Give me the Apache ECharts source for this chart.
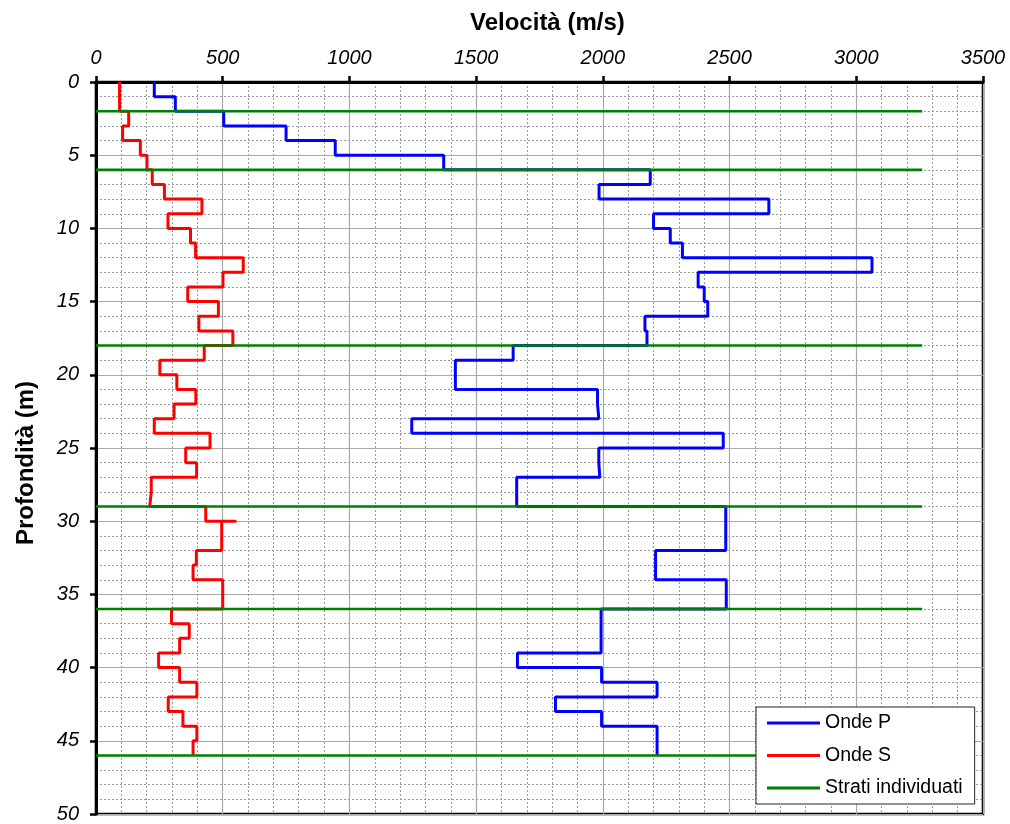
<!DOCTYPE html>
<html>
<head>
<meta charset="utf-8">
<title>Velocità onde P e S</title>
<script src="https://cdn.jsdelivr.net/npm/echarts@6/dist/echarts.min.js"></script>
<style>
  html, body { margin: 0; padding: 0; background: #fff; }
  #chart { width: 1010px; height: 824px; }
</style>
</head>
<body>
<div id="chart"></div>
<script>
// Onde P: top depth of each layer (m) and its velocity (m/s)
const pTop = [0, 1, 2, 3, 4, 5, 6, 7, 8, 9, 10, 11, 12, 13, 14, 15, 16, 17, 18, 19, 21, 22, 23, 24, 25, 26, 27, 29, 32, 34, 36, 39, 40, 41, 42, 43, 44];
const pVel = [230, 313, 504, 750, 944, 1372, 2187, 1985, 2655, 2200, 2266, 2314, 3062, 2376, 2400, 2414, 2166, 2174, 1646, 1418, 1979, 1984, 1246, 2475, 1984, 1988, 1660, 2485, 2208, 2487, 1993, 1663, 1995, 2214, 1813, 1995, 2214];
const pBottom = 46;

// Onde S: top depth of each layer (m) and its velocity (m/s)
const sTop = [0, 2, 3, 4, 5, 6, 7, 8, 9, 10, 11, 12, 13, 14, 15, 16, 17, 18, 19, 20, 21, 22, 23, 24, 25, 26, 27, 28, 29, 30, 30, 32, 33, 34, 36, 37, 38, 39, 40, 41, 42, 43, 44, 45];
const sVel = [93, 129, 105, 175, 201, 222, 270, 418, 284, 373, 393, 581, 501, 362, 483, 406, 540, 427, 252, 319, 394, 308, 230, 450, 354, 397, 218, 212, 433, 554, 496, 396, 383, 500, 298, 368, 330, 247, 330, 398, 285, 343, 398, 383];
const sBottom = 46;

// Strati individuati: layer boundary depths (m) and extent along the velocity axis
const strataDepths = [2, 6, 18, 29, 36, 46];
const strataExtent = [0, 3260];

// Axis ticks
const velTicks = [0, 500, 1000, 1500, 2000, 2500, 3000, 3500];
const depthTicks = [0, 5, 10, 15, 20, 25, 30, 35, 40, 45, 50];

// Build a stepped profile: vertical inside each layer, horizontal at boundaries
function stepProfile(tops, vels, bottom) {
  const pts = [];
  for (let i = 0; i < tops.length; i++) {
    const d0 = tops[i];
    const d1 = i + 1 < tops.length ? tops[i + 1] : bottom;
    pts.push([vels[i], d0]);
    pts.push([vels[i], d1]);
  }
  return pts;
}

const FONT = '"Liberation Sans", Arial, sans-serif';
const chart = echarts.init(document.getElementById('chart'), null, { renderer: 'canvas' });

const strataSeries = strataDepths.map(d => ({
  name: 'Strati individuati',
  type: 'line',
  data: [[strataExtent[0], d], [strataExtent[1], d]],
  symbol: 'none',
  lineStyle: { color: '#008000', width: 2.6 },
  itemStyle: { color: '#008000' }
}));

const plainNumber = v => String(v);

chart.setOption({
  backgroundColor: '#ffffff',
  animation: false,
  grid: {
    left: 96, top: 82, width: 887, height: 734,
    show: true, borderColor: '#000', borderWidth: 2.6, backgroundColor: '#fff'
  },
  graphic: [
    {
      type: 'text', left: 470, top: 11,
      style: { text: 'Velocità (m/s)', font: 'bold 24px ' + FONT, fill: '#000' }
    },
    {
      type: 'text', x: 26, y: 463, rotation: Math.PI / 2,
      style: { text: 'Profondità (m)', font: 'bold 24px ' + FONT, fill: '#000',
               align: 'center', verticalAlign: 'middle' }
    }
  ],
  legend: {
    orient: 'vertical',
    left: 756, top: 707,
    padding: [6, 12, 6, 11],
    icon: 'rect',
    itemWidth: 53, itemHeight: 3, itemGap: 12.5,
    backgroundColor: '#fff',
    borderColor: '#222', borderWidth: 1,
    borderRadius: 0,
    data: ['Onde P', 'Onde S', 'Strati individuati'],
    textStyle: { fontFamily: FONT, fontSize: 19.5, color: '#000', lineHeight: 20 }
  },
  xAxis: {
    type: 'value', position: 'top',
    min: velTicks[0], max: velTicks[velTicks.length - 1], interval: 500,
    axisLine: { show: true, onZero: false, lineStyle: { color: '#000', width: 3 } },
    axisTick: { show: true, length: 6, lineStyle: { color: '#000', width: 2.5 } },
    axisLabel: { fontFamily: FONT, fontSize: 20, fontStyle: 'italic', color: '#000', margin: 14, formatter: plainNumber },
    splitLine: { show: true, lineStyle: { color: '#a8a8a8', width: 1.2 } },
    minorTick: { show: false, splitNumber: 5 },
    minorSplitLine: { show: true, lineStyle: { color: '#9a9a9a', width: 1, type: [2, 2] } }
  },
  yAxis: {
    type: 'value', inverse: true,
    min: depthTicks[0], max: depthTicks[depthTicks.length - 1], interval: 5,
    axisLine: { show: true, onZero: false, lineStyle: { color: '#000', width: 3 } },
    axisTick: { show: true, length: 6, lineStyle: { color: '#000', width: 2.5 } },
    axisLabel: { fontFamily: FONT, fontSize: 20, fontStyle: 'italic', color: '#000', margin: 17, formatter: plainNumber },
    splitLine: { show: true, lineStyle: { color: '#a8a8a8', width: 1.2 } },
    minorTick: { show: false, splitNumber: 5 },
    minorSplitLine: { show: true, lineStyle: { color: '#9a9a9a', width: 1, type: [2, 2] } }
  },
  series: [
    {
      name: 'Onde P', type: 'line', symbol: 'none',
      data: stepProfile(pTop, pVel, pBottom),
      lineStyle: { color: '#0000ff', width: 3 },
      itemStyle: { color: '#0000ff' }
    },
    {
      name: 'Onde S', type: 'line', symbol: 'none',
      data: stepProfile(sTop, sVel, sBottom),
      lineStyle: { color: '#ff0000', width: 3 },
      itemStyle: { color: '#ff0000' }
    }
  ].concat(strataSeries)
});
</script>
</body>
</html>
